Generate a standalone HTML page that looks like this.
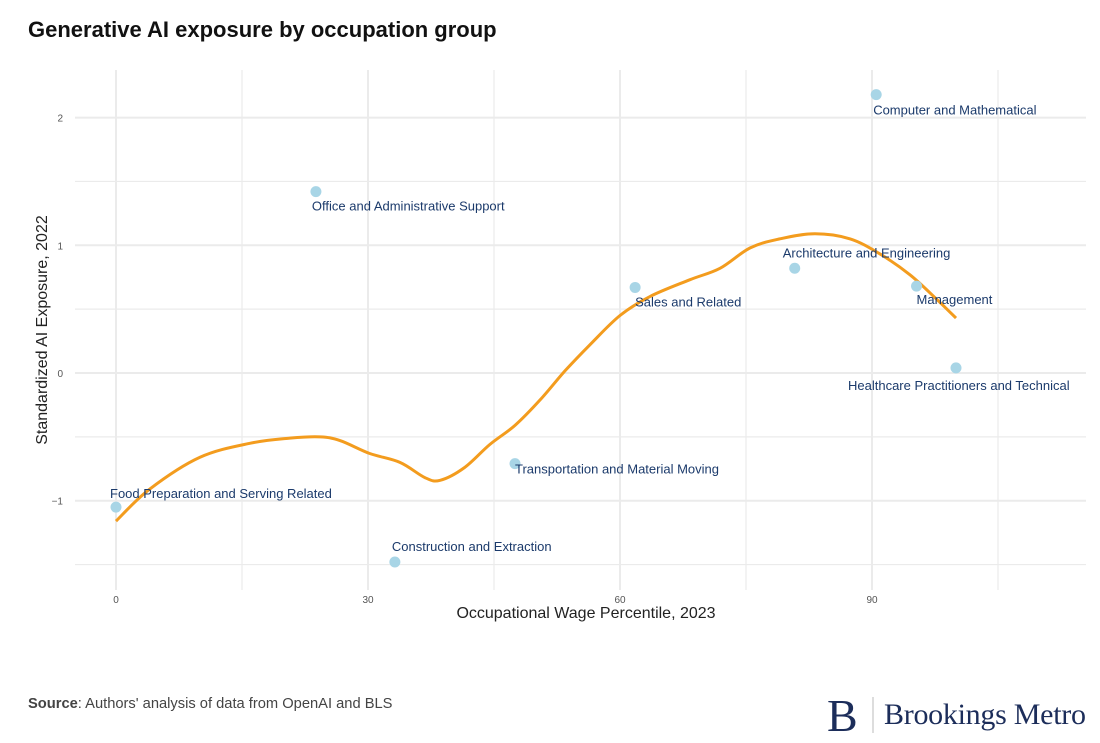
<!DOCTYPE html>
<html><head><meta charset="utf-8"><style>
body{margin:0;background:#fff;font-family:"Liberation Sans",sans-serif;}
#wrap{position:relative;width:1100px;height:743px;overflow:hidden;}
</style></head><body>
<div id="wrap">
<svg id="svg" width="1100" height="743" xmlns="http://www.w3.org/2000/svg">
<text x="28" y="37" font-size="22" font-weight="bold" fill="#111">Generative AI exposure by occupation group</text>
<g id="grid"></g>
<g id="ticks"></g>
<path id="curve" fill="none" stroke="#f39c1e" stroke-width="3" stroke-linejoin="round"/>
<g id="pts"></g>
<text x="586" y="618" font-size="16" fill="#222" text-anchor="middle">Occupational Wage Percentile, 2023</text>
<text transform="translate(47,330) rotate(-90)" font-size="16" fill="#222" text-anchor="middle">Standardized AI Exposure, 2022</text>
<text x="28" y="708" font-size="14.7" fill="#444"><tspan font-weight="bold">Source</tspan>: Authors' analysis of data from OpenAI and BLS</text>
<g>
<text x="827" y="731" font-family="Liberation Serif,serif" font-size="46" fill="#1c2d5a">B</text>
<line x1="873" y1="697" x2="873" y2="733" stroke="#bbb" stroke-width="1"/>
<text x="884" y="724" font-family="Liberation Serif,serif" font-size="30" fill="#1c2d5a" textLength="202">Brookings Metro</text>
</g>
</svg>
</div>
<script>
const xTicks=[0,30,60,90];
const xGrid=[0,15,30,45,60,75,90,105];
const yTicks=[-1,0,1,2];
const yGrid=[-1.5,-1,-0.5,0,0.5,1,1.5,2];
const names=["Computer and Mathematical","Office and Administrative Support","Architecture and Engineering","Sales and Related","Management","Healthcare Practitioners and Technical","Transportation and Material Moving","Food Preparation and Serving Related","Construction and Extraction"];
const wage=[90.5,23.8,80.8,61.8,95.3,100,47.5,0,33.2];
const exposure=[2.18,1.42,0.82,0.67,0.68,0.04,-0.71,-1.05,-1.48];
const curveX=[0,4,10,16,20.7,24.3,26.7,30.2,33.8,36.8,38.6,41.5,44.5,47.5,50.5,53.5,56.4,60,63.6,68.3,71.9,75.5,79,83.2,87.4,91,94.5,97.5,100];
const curveY=[-1.16,-0.91,-0.66,-0.55,-0.51,-0.5,-0.53,-0.63,-0.7,-0.82,-0.84,-0.74,-0.56,-0.41,-0.21,0.02,0.22,0.45,0.6,0.73,0.82,0.98,1.05,1.09,1.05,0.93,0.77,0.59,0.43];
const labelOff=[[-3,20],[-4,19],[-12,-11],[0,19],[0,18],[-108,22],[0,10],[-6,-9],[-3,-11]];
const X=v=>116+v*8.4, Y=v=>373-v*127.7;
const NS="http://www.w3.org/2000/svg";
const grid=document.getElementById('grid'),ticks=document.getElementById('ticks'),pts=document.getElementById('pts');
function mk(tag,attrs,parent){const e=document.createElementNS(NS,tag);for(const k in attrs)e.setAttribute(k,attrs[k]);parent.appendChild(e);return e;}
xGrid.forEach(v=>{const l=mk('line',{x1:X(v),x2:X(v),y1:70,y2:590,stroke:'#ebebeb','stroke-width':xTicks.includes(v)?2:1.2},grid);

});
yGrid.forEach(v=>{const l=mk('line',{x1:75,x2:1086,y1:Y(v),y2:Y(v),stroke:'#ebebeb','stroke-width':yTicks.includes(v)?2:1.2},grid);

});
xTicks.forEach(v=>{const t=mk('text',{x:X(v),y:603,'font-size':10,fill:'#555','text-anchor':'middle'},ticks);t.textContent=v;

});
yTicks.forEach(v=>{const t=mk('text',{x:63,y:Y(v)+4,'font-size':10,fill:'#555','text-anchor':'end'},ticks);t.textContent=v<0?'\u2212'+(-v):v;

});
const P=curveX.map((v,i)=>[X(v),Y(curveY[i])]);
let d='M'+P[0][0].toFixed(1)+','+P[0][1].toFixed(1);
for(let i=0;i<P.length-1;i++){const p0=P[Math.max(i-1,0)],p1=P[i],p2=P[i+1],p3=P[Math.min(i+2,P.length-1)];
const c1=[p1[0]+(p2[0]-p0[0])/6,p1[1]+(p2[1]-p0[1])/6],c2=[p2[0]-(p3[0]-p1[0])/6,p2[1]-(p3[1]-p1[1])/6];
d+='C'+c1.map(n=>n.toFixed(1)).join(',')+' '+c2.map(n=>n.toFixed(1)).join(',')+' '+p2.map(n=>n.toFixed(1)).join(',');}
document.getElementById('curve').setAttribute('d',d);
names.forEach((n,i)=>{const c=mk('circle',{cx:X(wage[i]),cy:Y(exposure[i]),r:5.5,fill:'#a8d5e6'},pts);


const o=labelOff[i];const t=mk('text',{x:X(wage[i])+o[0],y:Y(exposure[i])+o[1],'font-size':13,fill:'#1b3a6b'},pts);t.textContent=n;

});
</script>
</body></html>
